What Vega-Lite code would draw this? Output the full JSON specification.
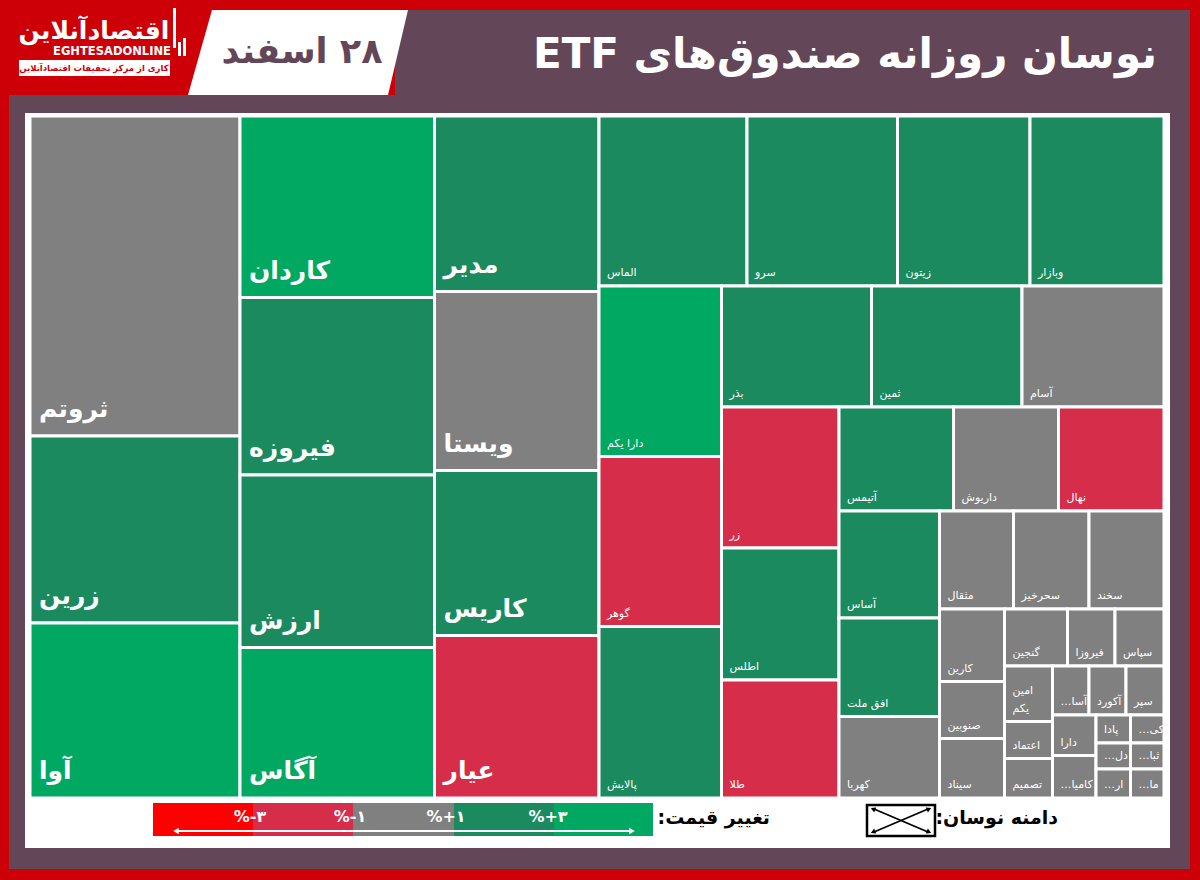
{
  "$schema": "https://vega.github.io/schema/vega-lite/v6.json",
  "width": 1200,
  "height": 880,
  "autosize": {"type": "none"},
  "padding": 0,
  "background": "#cd0008",
  "config": {"view": {"stroke": null}, "font": "DejaVu Sans"},
  "layer": [
    {
      "data": {"values": [
        {"part": "frame", "x": 9, "x2": 1190, "y": 95, "y2": 869},
        {"part": "band", "x": 395, "x2": 1190, "y": 10, "y2": 95}
      ]},
      "mark": {"type": "rect", "color": "#644659"},
      "encoding": {
        "x": {"field": "x", "type": "quantitative", "scale": {"domain": [0, 1200], "range": [0, 1200], "nice": false, "zero": false}, "axis": null},
        "x2": {"field": "x2"},
        "y": {"field": "y", "type": "quantitative", "scale": {"domain": [0, 880], "range": [0, 880], "nice": false, "zero": false}, "axis": null},
        "y2": {"field": "y2"}
      }
    },
    {
      "data": {"values": [
        {"y": 10, "x": 212, "x2": 408},
        {"y": 95, "x": 188, "x2": 388}
      ]},
      "mark": {"type": "area", "orient": "horizontal", "color": "white"},
      "encoding": {
        "y": {"field": "y", "type": "quantitative", "scale": {"domain": [0, 880], "range": [0, 880], "nice": false, "zero": false}, "axis": null},
        "x": {"field": "x", "type": "quantitative", "scale": {"domain": [0, 1200], "range": [0, 1200], "nice": false, "zero": false}, "axis": null},
        "x2": {"field": "x2"}
      }
    },
    {
      "data": {"values": [
        {"part": "panel", "x": 25, "x2": 1170, "y": 113, "y2": 848},
        {"part": "logo box", "x": 19, "x2": 170, "y": 60, "y2": 76},
        {"part": "bar1", "x": 173, "x2": 176, "y": 8, "y2": 48},
        {"part": "bar2", "x": 178, "x2": 181, "y": 42, "y2": 56},
        {"part": "bar3", "x": 183, "x2": 186, "y": 38, "y2": 56}
      ]},
      "mark": {"type": "rect", "color": "white"},
      "encoding": {
        "x": {"field": "x", "type": "quantitative", "scale": {"domain": [0, 1200], "range": [0, 1200], "nice": false, "zero": false}, "axis": null},
        "x2": {"field": "x2"},
        "y": {"field": "y", "type": "quantitative", "scale": {"domain": [0, 880], "range": [0, 880], "nice": false, "zero": false}, "axis": null},
        "y2": {"field": "y2"}
      }
    },
    {
      "data": {"values": [
        {"t": "اقتصادآنلاین", "x": 94, "y": 31}
      ]},
      "mark": {"type": "text", "color": "white", "fontSize": 25, "fontWeight": "bold", "align": "center", "baseline": "middle"},
      "encoding": {
        "x": {"field": "x", "type": "quantitative", "scale": {"domain": [0, 1200], "range": [0, 1200], "nice": false, "zero": false}, "axis": null},
        "y": {"field": "y", "type": "quantitative", "scale": {"domain": [0, 880], "range": [0, 880], "nice": false, "zero": false}, "axis": null},
        "text": {"field": "t"}
      }
    },
    {
      "data": {"values": [
        {"t": "EGHTESADONLINE", "x": 112, "y": 52}
      ]},
      "mark": {"type": "text", "color": "white", "fontSize": 11.5, "fontWeight": "bold", "align": "center", "baseline": "middle"},
      "encoding": {
        "x": {"field": "x", "type": "quantitative", "scale": {"domain": [0, 1200], "range": [0, 1200], "nice": false, "zero": false}, "axis": null},
        "y": {"field": "y", "type": "quantitative", "scale": {"domain": [0, 880], "range": [0, 880], "nice": false, "zero": false}, "axis": null},
        "text": {"field": "t"}
      }
    },
    {
      "data": {"values": [
        {"t": "کاری از مرکز تحقیقات اقتصادآنلاین", "x": 94, "y": 68}
      ]},
      "mark": {"type": "text", "color": "#cd0008", "fontSize": 8.5, "fontWeight": "bold", "align": "center", "baseline": "middle"},
      "encoding": {
        "x": {"field": "x", "type": "quantitative", "scale": {"domain": [0, 1200], "range": [0, 1200], "nice": false, "zero": false}, "axis": null},
        "y": {"field": "y", "type": "quantitative", "scale": {"domain": [0, 880], "range": [0, 880], "nice": false, "zero": false}, "axis": null},
        "text": {"field": "t"}
      }
    },
    {
      "data": {"values": [
        {"t": "‫۲۸ اسفند‬", "x": 302, "y": 52}
      ]},
      "mark": {"type": "text", "color": "#644659", "fontSize": 35, "fontWeight": "bold", "align": "center", "baseline": "middle"},
      "encoding": {
        "x": {"field": "x", "type": "quantitative", "scale": {"domain": [0, 1200], "range": [0, 1200], "nice": false, "zero": false}, "axis": null},
        "y": {"field": "y", "type": "quantitative", "scale": {"domain": [0, 880], "range": [0, 880], "nice": false, "zero": false}, "axis": null},
        "text": {"field": "t"}
      }
    },
    {
      "data": {"values": [
        {"t": "‫نوسان روزانه صندوق‌های ETF‬", "x": 1157, "y": 55}
      ]},
      "mark": {"type": "text", "color": "white", "fontSize": 42, "fontWeight": "bold", "align": "right", "baseline": "middle"},
      "encoding": {
        "x": {"field": "x", "type": "quantitative", "scale": {"domain": [0, 1200], "range": [0, 1200], "nice": false, "zero": false}, "axis": null},
        "y": {"field": "y", "type": "quantitative", "scale": {"domain": [0, 880], "range": [0, 880], "nice": false, "zero": false}, "axis": null},
        "text": {"field": "t"}
      }
    },
    {
      "data": {"name": "tiles", "values": [
        {"name": "ثروتم", "c": "flat", "x": 30, "x2": 240, "y": 116, "y2": 436},
        {"name": "زرین", "c": "up1", "x": 30, "x2": 240, "y": 436, "y2": 623},
        {"name": "آوا", "c": "up3", "x": 30, "x2": 240, "y": 623, "y2": 798},
        {"name": "کاردان", "c": "up3", "x": 240, "x2": 434.5, "y": 116, "y2": 297.5},
        {"name": "فیروزه", "c": "up1", "x": 240, "x2": 434.5, "y": 297.5, "y2": 475},
        {"name": "ارزش", "c": "up1", "x": 240, "x2": 434.5, "y": 475, "y2": 647.5},
        {"name": "آگاس", "c": "up3", "x": 240, "x2": 434.5, "y": 647.5, "y2": 798},
        {"name": "مدیر", "c": "up1", "x": 434.5, "x2": 599, "y": 116, "y2": 291.5},
        {"name": "ویستا", "c": "flat", "x": 434.5, "x2": 599, "y": 291.5, "y2": 470.5},
        {"name": "کاریس", "c": "up1", "x": 434.5, "x2": 599, "y": 470.5, "y2": 635.5},
        {"name": "عیار", "c": "down1", "x": 434.5, "x2": 599, "y": 635.5, "y2": 798},
        {"name": "الماس", "c": "up1", "x": 599, "x2": 747, "y": 116, "y2": 286},
        {"name": "سرو", "c": "up1", "x": 747, "x2": 897.5, "y": 116, "y2": 286},
        {"name": "زیتون", "c": "up1", "x": 897.5, "x2": 1030, "y": 116, "y2": 286},
        {"name": "وبازار", "c": "up1", "x": 1030, "x2": 1164, "y": 116, "y2": 286},
        {"name": "دارا یکم", "c": "up3", "x": 599, "x2": 721.5, "y": 286, "y2": 456.5},
        {"name": "گوهر", "c": "down1", "x": 599, "x2": 721.5, "y": 456.5, "y2": 626.5},
        {"name": "پالایش", "c": "up1", "x": 599, "x2": 721.5, "y": 626.5, "y2": 798},
        {"name": "بذر", "c": "up1", "x": 721.5, "x2": 871.5, "y": 286, "y2": 407},
        {"name": "ثمین", "c": "up1", "x": 871.5, "x2": 1022, "y": 286, "y2": 407},
        {"name": "آسام", "c": "flat", "x": 1022, "x2": 1164, "y": 286, "y2": 407},
        {"name": "زر", "c": "down1", "x": 721.5, "x2": 839, "y": 407, "y2": 548},
        {"name": "اطلس", "c": "up1", "x": 721.5, "x2": 839, "y": 548, "y2": 680},
        {"name": "طلا", "c": "down1", "x": 721.5, "x2": 839, "y": 680, "y2": 798},
        {"name": "آتیمس", "c": "up1", "x": 839, "x2": 953.5, "y": 407, "y2": 511},
        {"name": "داریوش", "c": "flat", "x": 953.5, "x2": 1058.5, "y": 407, "y2": 511},
        {"name": "نهال", "c": "down1", "x": 1058.5, "x2": 1164, "y": 407, "y2": 511},
        {"name": "آساس", "c": "up1", "x": 839, "x2": 939.5, "y": 511, "y2": 618},
        {"name": "افق ملت", "c": "up1", "x": 839, "x2": 939.5, "y": 618, "y2": 716.5},
        {"name": "کهربا", "c": "flat", "x": 839, "x2": 939.5, "y": 716.5, "y2": 798},
        {"name": "مثقال", "c": "flat", "x": 939.5, "x2": 1013.5, "y": 511, "y2": 609},
        {"name": "سحرخیز", "c": "flat", "x": 1013.5, "x2": 1089, "y": 511, "y2": 609},
        {"name": "سخند", "c": "flat", "x": 1089, "x2": 1164, "y": 511, "y2": 609},
        {"name": "کارین", "c": "flat", "x": 939.5, "x2": 1004.5, "y": 609, "y2": 681.5},
        {"name": "صنوبین", "c": "flat", "x": 939.5, "x2": 1004.5, "y": 681.5, "y2": 738.5},
        {"name": "سیناد", "c": "flat", "x": 939.5, "x2": 1004.5, "y": 738.5, "y2": 798},
        {"name": "گنجین", "c": "flat", "x": 1004.5, "x2": 1067.5, "y": 609, "y2": 666},
        {"name": "فیروزا", "c": "flat", "x": 1067.5, "x2": 1115, "y": 609, "y2": 666},
        {"name": "سپاس", "c": "flat", "x": 1115, "x2": 1164, "y": 609, "y2": 666},
        {"name": "امین\nیکم", "c": "flat", "x": 1004.5, "x2": 1052.5, "y": 666, "y2": 721.5},
        {"name": "اعتماد", "c": "flat", "x": 1004.5, "x2": 1052.5, "y": 721.5, "y2": 758.5},
        {"name": "تصمیم", "c": "flat", "x": 1004.5, "x2": 1052.5, "y": 758.5, "y2": 798},
        {"name": "‫آسا…‬", "c": "flat", "x": 1052.5, "x2": 1089, "y": 666, "y2": 715},
        {"name": "آکورد", "c": "flat", "x": 1089, "x2": 1126, "y": 666, "y2": 715},
        {"name": "سپر", "c": "flat", "x": 1126, "x2": 1164, "y": 666, "y2": 715},
        {"name": "دارا", "c": "flat", "x": 1052.5, "x2": 1096, "y": 715, "y2": 755.5},
        {"name": "‫کامیا…‬", "c": "flat", "x": 1052.5, "x2": 1096, "y": 755.5, "y2": 798},
        {"name": "پادا", "c": "flat", "x": 1096, "x2": 1130.5, "y": 715, "y2": 743},
        {"name": "‫کی…‬", "c": "flat", "x": 1130.5, "x2": 1164, "y": 715, "y2": 743},
        {"name": "‫دل…‬", "c": "flat", "x": 1096, "x2": 1130.5, "y": 743, "y2": 769},
        {"name": "‫ثبا…‬", "c": "flat", "x": 1130.5, "x2": 1164, "y": 743, "y2": 769},
        {"name": "‫ار…‬", "c": "flat", "x": 1096, "x2": 1130.5, "y": 769, "y2": 798},
        {"name": "‫ما…‬", "c": "flat", "x": 1130.5, "x2": 1164, "y": 769, "y2": 798}
      ]},
      "layer": [
        {
          "mark": {"type": "rect", "stroke": "white", "strokeWidth": 3},
          "encoding": {
            "x": {"field": "x", "type": "quantitative", "scale": {"domain": [0, 1200], "range": [0, 1200], "nice": false, "zero": false}, "axis": null},
            "x2": {"field": "x2"},
            "y": {"field": "y", "type": "quantitative", "scale": {"domain": [0, 880], "range": [0, 880], "nice": false, "zero": false}, "axis": null},
            "y2": {"field": "y2"},
            "color": {"field": "c", "type": "nominal", "scale": {"domain": ["up3", "up1", "flat", "down1", "down3"], "range": ["#00a862", "#1b8a5f", "#808080", "#d62d4a", "#ff0000"]}, "legend": null}
          }
        },
        {
          "transform": [{"filter": "datum.x2 <= 600"}],
          "mark": {"type": "text", "color": "white", "fontSize": 25, "fontWeight": "bold", "align": "left", "baseline": "alphabetic", "dx": 9, "dy": -19},
          "encoding": {
            "x": {"field": "x", "type": "quantitative", "scale": {"domain": [0, 1200], "range": [0, 1200], "nice": false, "zero": false}, "axis": null},
            "y": {"field": "y2", "type": "quantitative", "scale": {"domain": [0, 880], "range": [0, 880], "nice": false, "zero": false}, "axis": null},
            "text": {"field": "name"}
          }
        },
        {
          "transform": [{"filter": "datum.x2 > 600 && indexof(datum.name, '\\n') < 0"}],
          "mark": {"type": "text", "color": "white", "fontSize": 11, "align": "left", "baseline": "bottom", "dx": 8, "dy": -8},
          "encoding": {
            "x": {"field": "x", "type": "quantitative", "scale": {"domain": [0, 1200], "range": [0, 1200], "nice": false, "zero": false}, "axis": null},
            "y": {"field": "y2", "type": "quantitative", "scale": {"domain": [0, 880], "range": [0, 880], "nice": false, "zero": false}, "axis": null},
            "text": {"field": "name"}
          }
        },
        {
          "transform": [{"filter": "indexof(datum.name, '\\n') >= 0"}],
          "mark": {"type": "text", "color": "white", "fontSize": 11, "align": "left", "baseline": "bottom", "dx": 8, "dy": -26, "lineBreak": "\n", "lineHeight": 18},
          "encoding": {
            "x": {"field": "x", "type": "quantitative", "scale": {"domain": [0, 1200], "range": [0, 1200], "nice": false, "zero": false}, "axis": null},
            "y": {"field": "y2", "type": "quantitative", "scale": {"domain": [0, 880], "range": [0, 880], "nice": false, "zero": false}, "axis": null},
            "text": {"field": "name"}
          }
        }
      ]
    },
    {
      "data": {"values": [
        {"c": "down3", "x": 153, "x2": 253, "y": 803, "y2": 836},
        {"c": "down1", "x": 253, "x2": 353, "y": 803, "y2": 836},
        {"c": "flat", "x": 353, "x2": 454, "y": 803, "y2": 836},
        {"c": "up1", "x": 454, "x2": 554, "y": 803, "y2": 836},
        {"c": "up3", "x": 554, "x2": 653, "y": 803, "y2": 836}
      ]},
      "mark": {"type": "rect"},
      "encoding": {
        "x": {"field": "x", "type": "quantitative", "scale": {"domain": [0, 1200], "range": [0, 1200], "nice": false, "zero": false}, "axis": null},
        "x2": {"field": "x2"},
        "y": {"field": "y", "type": "quantitative", "scale": {"domain": [0, 880], "range": [0, 880], "nice": false, "zero": false}, "axis": null},
        "y2": {"field": "y2"},
        "color": {"field": "c", "type": "nominal", "scale": {"domain": ["up3", "up1", "flat", "down1", "down3"], "range": ["#00a862", "#1b8a5f", "#808080", "#d62d4a", "#ff0000"]}, "legend": null}
      }
    },
    {
      "data": {"values": [
        {"t": "%-۳", "x": 250, "y": 817},
        {"t": "%-۱", "x": 350, "y": 817},
        {"t": "%+۱", "x": 446, "y": 817},
        {"t": "%+۳", "x": 548, "y": 817}
      ]},
      "mark": {"type": "text", "color": "white", "fontSize": 16, "fontWeight": "bold", "align": "center", "baseline": "middle"},
      "encoding": {
        "x": {"field": "x", "type": "quantitative", "scale": {"domain": [0, 1200], "range": [0, 1200], "nice": false, "zero": false}, "axis": null},
        "y": {"field": "y", "type": "quantitative", "scale": {"domain": [0, 880], "range": [0, 880], "nice": false, "zero": false}, "axis": null},
        "text": {"field": "t"}
      }
    },
    {
      "data": {"values": [{"x": 176, "x2": 632, "y": 831}]},
      "mark": {"type": "rule", "color": "white", "strokeWidth": 2},
      "encoding": {
        "x": {"field": "x", "type": "quantitative", "scale": {"domain": [0, 1200], "range": [0, 1200], "nice": false, "zero": false}, "axis": null},
        "x2": {"field": "x2"},
        "y": {"field": "y", "type": "quantitative", "scale": {"domain": [0, 880], "range": [0, 880], "nice": false, "zero": false}, "axis": null}
      }
    },
    {
      "data": {"values": [{"end": "left", "x": 176, "y": 831}]},
      "mark": {"type": "point", "shape": "triangle-left", "filled": true, "color": "white", "opacity": 1, "size": 40},
      "encoding": {
        "x": {"field": "x", "type": "quantitative", "scale": {"domain": [0, 1200], "range": [0, 1200], "nice": false, "zero": false}, "axis": null},
        "y": {"field": "y", "type": "quantitative", "scale": {"domain": [0, 880], "range": [0, 880], "nice": false, "zero": false}, "axis": null}
      }
    },
    {
      "data": {"values": [{"end": "right", "x": 632, "y": 831}]},
      "mark": {"type": "point", "shape": "triangle-right", "filled": true, "color": "white", "opacity": 1, "size": 40},
      "encoding": {
        "x": {"field": "x", "type": "quantitative", "scale": {"domain": [0, 1200], "range": [0, 1200], "nice": false, "zero": false}, "axis": null},
        "y": {"field": "y", "type": "quantitative", "scale": {"domain": [0, 880], "range": [0, 880], "nice": false, "zero": false}, "axis": null}
      }
    },
    {
      "data": {"values": [
        {"t": ":تغییر قیمت", "x": 770, "y": 818},
        {"t": ":دامنه نوسان", "x": 1058, "y": 818}
      ]},
      "mark": {"type": "text", "color": "black", "fontSize": 19, "fontWeight": "bold", "align": "right", "baseline": "middle"},
      "encoding": {
        "x": {"field": "x", "type": "quantitative", "scale": {"domain": [0, 1200], "range": [0, 1200], "nice": false, "zero": false}, "axis": null},
        "y": {"field": "y", "type": "quantitative", "scale": {"domain": [0, 880], "range": [0, 880], "nice": false, "zero": false}, "axis": null},
        "text": {"field": "t"}
      }
    },
    {
      "data": {"values": [{"x": 867, "x2": 935, "y": 805, "y2": 836}]},
      "mark": {"type": "rect", "fill": "white", "stroke": "black", "strokeWidth": 2.5},
      "encoding": {
        "x": {"field": "x", "type": "quantitative", "scale": {"domain": [0, 1200], "range": [0, 1200], "nice": false, "zero": false}, "axis": null},
        "x2": {"field": "x2"},
        "y": {"field": "y", "type": "quantitative", "scale": {"domain": [0, 880], "range": [0, 880], "nice": false, "zero": false}, "axis": null},
        "y2": {"field": "y2"}
      }
    },
    {
      "data": {"values": [
        {"x": 874, "y": 809, "x2": 928, "y2": 832},
        {"x": 874, "y": 832, "x2": 928, "y2": 809}
      ]},
      "mark": {"type": "rule", "color": "black", "strokeWidth": 1.8},
      "encoding": {
        "x": {"field": "x", "type": "quantitative", "scale": {"domain": [0, 1200], "range": [0, 1200], "nice": false, "zero": false}, "axis": null},
        "x2": {"field": "x2"},
        "y": {"field": "y", "type": "quantitative", "scale": {"domain": [0, 880], "range": [0, 880], "nice": false, "zero": false}, "axis": null},
        "y2": {"field": "y2"}
      }
    },
    {
      "data": {"values": [{"x": 929, "y": 832}]},
      "mark": {"type": "point", "shape": "triangle-right", "angle": 23, "filled": true, "color": "black", "opacity": 1, "size": 30},
      "encoding": {
        "x": {"field": "x", "type": "quantitative", "scale": {"domain": [0, 1200], "range": [0, 1200], "nice": false, "zero": false}, "axis": null},
        "y": {"field": "y", "type": "quantitative", "scale": {"domain": [0, 880], "range": [0, 880], "nice": false, "zero": false}, "axis": null}
      }
    },
    {
      "data": {"values": [{"x": 873, "y": 809}]},
      "mark": {"type": "point", "shape": "triangle-left", "angle": 23, "filled": true, "color": "black", "opacity": 1, "size": 30},
      "encoding": {
        "x": {"field": "x", "type": "quantitative", "scale": {"domain": [0, 1200], "range": [0, 1200], "nice": false, "zero": false}, "axis": null},
        "y": {"field": "y", "type": "quantitative", "scale": {"domain": [0, 880], "range": [0, 880], "nice": false, "zero": false}, "axis": null}
      }
    },
    {
      "data": {"values": [{"x": 929, "y": 809}]},
      "mark": {"type": "point", "shape": "triangle-right", "angle": -23, "filled": true, "color": "black", "opacity": 1, "size": 30},
      "encoding": {
        "x": {"field": "x", "type": "quantitative", "scale": {"domain": [0, 1200], "range": [0, 1200], "nice": false, "zero": false}, "axis": null},
        "y": {"field": "y", "type": "quantitative", "scale": {"domain": [0, 880], "range": [0, 880], "nice": false, "zero": false}, "axis": null}
      }
    },
    {
      "data": {"values": [{"x": 873, "y": 832}]},
      "mark": {"type": "point", "shape": "triangle-left", "angle": -23, "filled": true, "color": "black", "opacity": 1, "size": 30},
      "encoding": {
        "x": {"field": "x", "type": "quantitative", "scale": {"domain": [0, 1200], "range": [0, 1200], "nice": false, "zero": false}, "axis": null},
        "y": {"field": "y", "type": "quantitative", "scale": {"domain": [0, 880], "range": [0, 880], "nice": false, "zero": false}, "axis": null}
      }
    }
  ]
}
